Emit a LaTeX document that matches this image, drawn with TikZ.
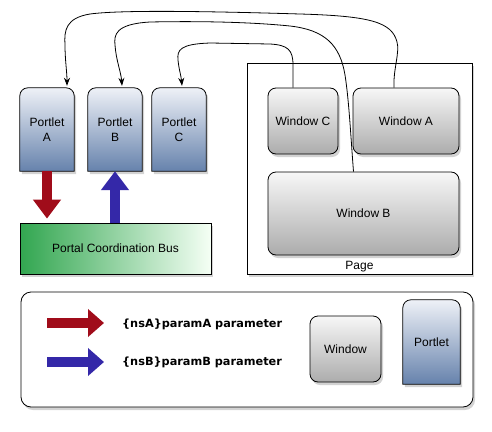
\documentclass[tikz,border=0pt]{standalone}
\usepackage{fontspec}
\setmainfont{Liberation Sans}
\newfontfamily\legfont{DejaVu Sans}
\usetikzlibrary{arrows.meta,shadows,backgrounds}

\definecolor{portletTop}{RGB}{238,241,247}
\definecolor{portletBot}{RGB}{102,130,172}
\definecolor{winTop}{RGB}{247,247,247}
\definecolor{winBot}{RGB}{172,172,172}
\definecolor{busGreen}{RGB}{50,166,80}
\definecolor{paramRed}{RGB}{160,12,26}
\definecolor{paramBlue}{RGB}{52,40,168}

\begin{document}
\begin{tikzpicture}[x=1pt,y=-1pt,
  every node/.style={font=\fontsize{12}{14.5}\selectfont},
  shadowed/.style={drop shadow={shadow xshift=2pt,shadow yshift=-3pt,opacity=0.35}},
  portlet/.style={shape=rectangle, minimum width=54pt, minimum height=83pt, align=center, inner sep=0pt},
  window/.style={shape=rectangle, rounded corners=8pt, draw, line width=0.8pt, top color=winTop, bottom color=winBot, shadowed, inner sep=0pt},
  fat/.style={line width=10pt, -{Triangle[width=27pt,length=19pt]}},
  fatleg/.style={line width=10pt, -{Triangle[width=27pt,length=16pt]}},
  link/.style={line width=0.8pt, -{Stealth[length=8pt,width=6pt]}}]
\useasboundingbox (0,0) rectangle (492,431);

% portlets
\path (47,129.5) node (pA) [portlet] {Portlet\\A};
\path (115,129.5) node (pB) [portlet] {Portlet\\B};
\path (179,129.5) node (pC) [portlet] {Portlet\\C};

% coordination bus
\path (115.5,248.5) node (bus) [shape=rectangle, minimum width=191pt, minimum height=51pt, draw, line width=0.8pt,
  left color=busGreen, right color=white!96!green, shadowed] {Portal Coordination Bus};

% page with its windows
\path (359.5,168.5) node (page) [shape=rectangle, minimum width=225pt, minimum height=211pt, draw, line width=0.8pt,
  fill=white, shadowed] {};
\path (page.south) node (pageLbl) [anchor=south, inner sep=2pt] {Page};
\path (303,121) node (wC) [window, minimum width=70pt, minimum height=66pt] {Window C};
\path (406,121) node (wA) [window, minimum width=106pt, minimum height=66pt] {Window A};
\path (363.5,213.5) node (wB) [window, minimum width=191pt, minimum height=83pt] {Window B};

% legend
\path (345.5,349) node (legW) [window, minimum width=71pt, minimum height=66pt] {Window};
\path (431.5,342) node (legP) [portlet, minimum width=57pt, minimum height=84pt] {Portlet};
\coordinate (legA1) at (47,323);
\coordinate (legA2) at (104,323);
\coordinate (legB1) at (47,362);
\coordinate (legB2) at (104,362);
\path (122,324) node (legTxtA) [anchor=west, inner sep=0pt, font=\legfont\bfseries\fontsize{11.3}{13}\selectfont] {\{nsA\}paramA parameter};
\path (122,362) node (legTxtB) [anchor=west, inner sep=0pt, font=\legfont\bfseries\fontsize{11.3}{13}\selectfont] {\{nsB\}paramB parameter};

% legend frame and portlet bodies, rounded on top only
\begin{scope}[on background layer]
\path (247,349.5) node (legend) [shape=rectangle, rounded corners=10pt, minimum width=452pt, minimum height=115pt,
  draw, line width=0.8pt, fill=white, shadowed] {};
\foreach \p in {pA,pB,pC,legP}
  \shade[shadowed, draw, line width=0.8pt, top color=portletTop, bottom color=portletBot]
    (\p.south west) -- ([yshift=-8pt]\p.north west) arc[start angle=180, end angle=90, radius=8pt]
    -- ([xshift=-8pt]\p.north east) arc[start angle=90, end angle=0, radius=8pt]
    -- (\p.south east) -- cycle;
\end{scope}

% parameter events
\draw[fat, paramRed] (pA.south) -- ([yshift=4pt]pA.south |- bus.north);
\draw[fat, paramBlue] (pB.south |- bus.north) -- (pB.south);
\draw[fatleg, paramRed] (legA1) -- (legA2);
\draw[fatleg, paramBlue] (legB1) -- (legB2);

% windows to portlets
\draw[link] ([xshift=-12pt]wA.north) .. controls (393,70) and (400,52) .. (397,42)
  .. controls (392,22) and (370,16) .. (300,14) .. controls (200,11) and (120,10) .. (90,14)
  .. controls (66,18) and (64,30) .. (65,45) .. controls (65,60) and (67,72) .. ([xshift=20pt,yshift=2pt]pA.north);
\draw[link] ([xshift=-10pt]wB.north) .. controls (351,140) and (349,100) .. (345,75)
  .. controls (340,45) and (325,30) .. (290,26) .. controls (250,22) and (200,21) .. (150,22)
  .. controls (115,24) and (114,35) .. (115,45) .. controls (116,60) and (121,72) .. ([xshift=7pt,yshift=2pt]pB.north);
\draw[link] ([xshift=-10pt]wC.north) -- (293,65) .. controls (293,50) and (288,45) .. (270,44) -- (210,43)
  .. controls (180,44) and (177,50) .. (178,60) .. controls (179,70) and (181,75) .. ([xshift=3pt,yshift=2pt]pC.north);

\end{tikzpicture}
\end{document}
